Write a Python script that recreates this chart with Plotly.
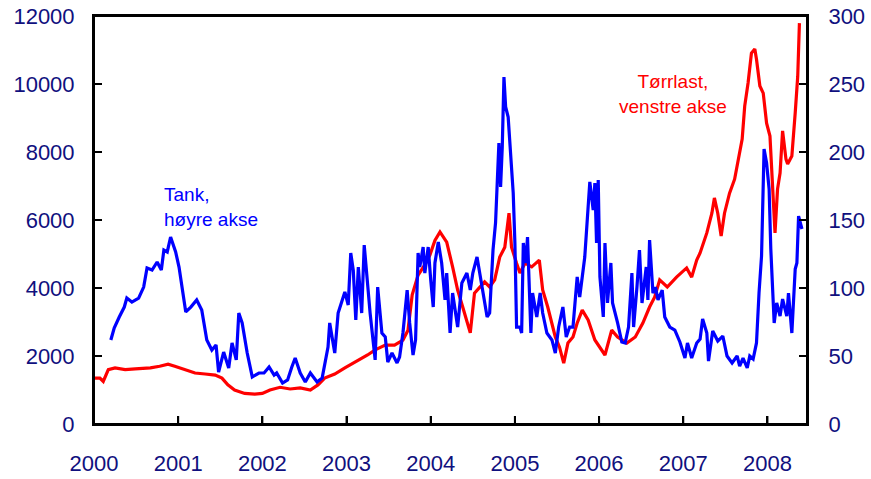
import plotly.graph_objects as go

# Tørrlast (venstre akse) - decimal years and index values
dry_years = [2000.00, 2000.07, 2000.11, 2000.17, 2000.25, 2000.37, 2000.49, 2000.67, 2000.78, 2000.88,
             2000.96, 2001.08, 2001.20, 2001.32, 2001.44, 2001.52, 2001.59, 2001.67, 2001.79, 2001.91,
             2002.00, 2002.09, 2002.21, 2002.33, 2002.45, 2002.57, 2002.66, 2002.74, 2002.86, 2002.98,
             2003.06, 2003.16, 2003.25, 2003.34, 2003.46, 2003.57, 2003.67, 2003.73, 2003.78, 2003.85,
             2003.93, 2003.99, 2004.05, 2004.11, 2004.19, 2004.26, 2004.32, 2004.38, 2004.47, 2004.52,
             2004.58, 2004.64, 2004.70, 2004.76, 2004.82, 2004.88, 2004.93, 2004.96, 2005.02, 2005.06,
             2005.12, 2005.20, 2005.29, 2005.33, 2005.39, 2005.48, 2005.53, 2005.58, 2005.63, 2005.69,
             2005.74, 2005.80, 2005.87, 2005.95, 2006.07, 2006.15, 2006.22, 2006.33, 2006.43, 2006.52,
             2006.60, 2006.66, 2006.72, 2006.81, 2006.92, 2007.04, 2007.10, 2007.16, 2007.20, 2007.28,
             2007.34, 2007.37, 2007.41, 2007.45, 2007.49, 2007.55, 2007.61, 2007.65, 2007.70, 2007.73,
             2007.77, 2007.81, 2007.85, 2007.87, 2007.91, 2007.95, 2007.99, 2008.03, 2008.06, 2008.09,
             2008.12, 2008.15, 2008.18, 2008.22, 2008.24, 2008.29, 2008.33, 2008.36, 2008.38]
dry_index = [1350, 1350, 1250, 1600, 1650, 1600, 1620, 1650, 1700, 1760,
             1700, 1600, 1500, 1470, 1440, 1350, 1150, 1000, 900, 880,
             900, 1000, 1080, 1030, 1060, 1000, 1150, 1350, 1470, 1650,
             1760, 1880, 2030, 2180, 2320, 2320, 2470, 2760, 3800, 4380,
             4680, 4970, 5400, 5650, 5350, 4620, 3940, 3440, 2680, 3850,
             4030, 4180, 4030, 4240, 4910, 5200, 6200, 5200, 4730, 4440,
             4730, 4620, 4820, 3940, 3440, 2560, 2260, 1790, 2380, 2560,
             2970, 3350, 3060, 2470, 2030, 2760, 2560, 2380, 2560, 2970,
             3440, 3730, 4240, 4030, 4320, 4590, 4320, 4820, 5030, 5620,
             6200, 6650, 6200, 5530, 6200, 6790, 7200, 7680, 8380, 9350,
             10030, 10910, 11030, 10730, 9940, 9730, 8850, 8470, 7090, 5620,
             6910, 7380, 8620, 7790, 7650, 7880, 9150, 10230, 11790]

# Tank (høyre akse)
tank_years = [2000.20, 2000.24, 2000.30, 2000.36, 2000.39, 2000.45, 2000.53, 2000.59, 2000.63, 2000.69,
              2000.75, 2000.80, 2000.83, 2000.87, 2000.91, 2000.97, 2001.01, 2001.05, 2001.09, 2001.15,
              2001.22, 2001.28, 2001.34, 2001.40, 2001.45, 2001.48, 2001.54, 2001.60, 2001.64, 2001.69,
              2001.72, 2001.76, 2001.82, 2001.88, 2001.96, 2002.02, 2002.08, 2002.14, 2002.17, 2002.24,
              2002.30, 2002.35, 2002.39, 2002.45, 2002.51, 2002.57, 2002.65, 2002.71, 2002.74, 2002.78,
              2002.80, 2002.86, 2002.90, 2002.95, 2002.98, 2003.02, 2003.05, 2003.08, 2003.11, 2003.14,
              2003.18, 2003.21, 2003.24, 2003.28, 2003.34, 2003.37, 2003.42, 2003.46, 2003.49, 2003.54,
              2003.60, 2003.63, 2003.67, 2003.72, 2003.75, 2003.79, 2003.82, 2003.85, 2003.87, 2003.91,
              2003.93, 2003.97, 2004.00, 2004.03, 2004.05, 2004.09, 2004.13, 2004.17, 2004.19, 2004.23,
              2004.26, 2004.32, 2004.37, 2004.43, 2004.47, 2004.50, 2004.55, 2004.61, 2004.67, 2004.70,
              2004.74, 2004.77, 2004.81, 2004.83, 2004.85, 2004.87, 2004.89, 2004.92, 2004.95, 2004.98,
              2005.00, 2005.02, 2005.06, 2005.08, 2005.10, 2005.13, 2005.15, 2005.19, 2005.21, 2005.26,
              2005.30, 2005.33, 2005.38, 2005.44, 2005.48, 2005.52, 2005.57, 2005.61, 2005.65, 2005.69,
              2005.74, 2005.77, 2005.83, 2005.87, 2005.89, 2005.93, 2005.95, 2005.97, 2005.99, 2006.01,
              2006.05, 2006.07, 2006.10, 2006.14, 2006.16, 2006.22, 2006.27, 2006.31, 2006.35, 2006.39,
              2006.41, 2006.45, 2006.48, 2006.51, 2006.56, 2006.58, 2006.60, 2006.64, 2006.67, 2006.70,
              2006.75, 2006.78, 2006.84, 2006.90, 2006.96, 2007.02, 2007.05, 2007.10, 2007.16, 2007.20,
              2007.23, 2007.28, 2007.30, 2007.35, 2007.41, 2007.47, 2007.52, 2007.58, 2007.64, 2007.67,
              2007.71, 2007.76, 2007.79, 2007.83, 2007.87, 2007.90, 2007.93, 2007.96, 2007.99, 2008.02,
              2008.04, 2008.08, 2008.11, 2008.15, 2008.18, 2008.23, 2008.25, 2008.29, 2008.33, 2008.35,
              2008.37, 2008.41]
tank_index = [61.8, 70.6, 78.7, 86.0, 92.6, 89.7, 92.6, 100.7, 114.7, 113.2,
              119.1, 113.2, 127.9, 126.5, 137.5, 126.5, 115.4, 98.5, 82.4, 86.0,
              91.2, 83.8, 61.8, 54.4, 58.1, 38.2, 52.9, 41.2, 59.6, 47.1,
              81.6, 74.3, 52.2, 34.6, 37.5, 37.5, 41.9, 36.0, 37.5, 30.1,
              32.4, 41.9, 48.5, 37.5, 30.9, 37.5, 30.9, 33.8, 44.9, 56.6,
              74.3, 52.2, 81.6, 91.2, 97.1, 87.5, 125.7, 113.2, 76.5, 115.4,
              81.6, 131.6, 108.1, 81.6, 47.1, 100.7, 66.9, 64.0, 45.6, 52.2,
              44.9, 49.3, 66.9, 98.5, 74.3, 50.7, 61.8, 125.7, 115.4, 130.1,
              111.0, 130.1, 105.9, 86.0, 118.4, 133.8, 118.4, 91.2, 111.0, 66.9,
              96.3, 71.3, 103.7, 111.0, 98.5, 111.0, 122.8, 100.7, 78.7, 81.6,
              127.9, 147.8, 206.6, 174.3, 203.7, 255.1, 233.1, 225.7, 199.3, 169.9,
              133.1, 71.3, 71.3, 66.9, 133.1, 118.4, 137.5, 66.9, 96.3, 78.7,
              96.3, 81.6, 66.9, 61.8, 52.2, 71.3, 86.0, 64.0, 71.3, 71.3,
              108.1, 93.4, 122.8, 155.1, 178.0, 157.4, 177.2, 133.1, 179.4, 108.1,
              78.7, 133.1, 89.0, 118.4, 89.0, 74.3, 60.3, 59.6, 71.3, 111.0,
              71.3, 100.7, 127.9, 89.0, 115.4, 91.2, 135.3, 96.3, 100.7, 91.2,
              98.5, 78.7, 71.3, 69.1, 60.3, 48.5, 59.6, 48.5, 59.6, 62.5,
              77.2, 66.9, 46.3, 68.4, 61.0, 64.7, 50.0, 44.9, 50.0, 42.6,
              48.5, 41.2, 50.0, 47.8, 59.6, 96.3, 123.5, 202.2, 191.9, 172.8,
              128.7, 74.3, 89.0, 79.4, 91.9, 79.4, 96.3, 66.9, 114.0, 118.4,
              152.9, 143.4]

years = [2000, 2001, 2002, 2003, 2004, 2005, 2006, 2007, 2008]
left_ticks = [0, 2000, 4000, 6000, 8000, 10000, 12000]
right_ticks = [0, 50, 100, 150, 200, 250, 300]

navy = "#10107e"
font = "Liberation Sans, Arial, sans-serif"

fig = go.Figure()
fig.add_trace(go.Scatter(x=dry_years, y=dry_index, mode="lines",
                         line=dict(color="#ff0000", width=3.2), name="Tørrlast"))
fig.add_trace(go.Scatter(x=tank_years, y=tank_index, mode="lines", yaxis="y2",
                         line=dict(color="#0000ff", width=3.2), name="Tank"))

axis_style = dict(ticks="inside", ticklen=8, tickcolor="black", tickwidth=2,
                  showline=True, linecolor="black", linewidth=2,
                  showgrid=False, zeroline=False, automargin=False)

fig.update_layout(
    width=871, height=479,
    margin=dict(l=94, r=64, t=16, b=55),
    plot_bgcolor="white", paper_bgcolor="white",
    showlegend=False,
    font=dict(family=font, size=22, color=navy),
    xaxis=dict(range=[2000, 2008.47], tickvals=years, ticktext=[str(y) for y in years],
               mirror=True, ticklabelstandoff=19, **axis_style),
    yaxis=dict(range=[0, 12000], tickvals=left_ticks, ticktext=[str(v) for v in left_ticks],
               ticklabelstandoff=13, **axis_style),
    yaxis2=dict(range=[0, 300], tickvals=right_ticks, ticktext=[str(v) for v in right_ticks],
                overlaying="y", side="right", ticklabelstandoff=15, **axis_style),
)

# frame and tick marks as shapes too, so the box always shows
fig.add_shape(type="rect", xref="paper", yref="paper", x0=0, x1=1, y0=0, y1=1,
              line=dict(color="black", width=2), layer="above")
tick_x = 8 / 713
tick_y = 8 / 408
for yr in years[1:]:
    fig.add_shape(type="line", xref="x", yref="paper", x0=yr, x1=yr, y0=0, y1=tick_y,
                  line=dict(color="black", width=2), layer="above")
for v in left_ticks[1:-1]:
    fig.add_shape(type="line", xref="paper", yref="y", x0=0, x1=tick_x, y0=v, y1=v,
                  line=dict(color="black", width=2), layer="above")
for v in right_ticks[1:-1]:
    fig.add_shape(type="line", xref="paper", yref="y2", x0=1 - tick_x, x1=1, y0=v, y1=v,
                  line=dict(color="black", width=2), layer="above")

fig.add_annotation(text="Tank,<br>høyre akse", xref="paper", yref="paper", x=0.095, y=0.532,
                   xanchor="left", yanchor="middle", align="left", showarrow=False,
                   font=dict(family=font, size=19, color="#0000ff"))
fig.add_annotation(text="Tørrlast,<br>venstre akse", xref="paper", yref="paper", x=0.812, y=0.809,
                   xanchor="center", yanchor="middle", align="center", showarrow=False,
                   font=dict(family=font, size=19, color="#ff0000"))

# drop the default page margin so the figure sits at the window's corner
fig.write_html("out.html", config={"displayModeBar": False},
               post_script="document.body.style.margin='0';")
